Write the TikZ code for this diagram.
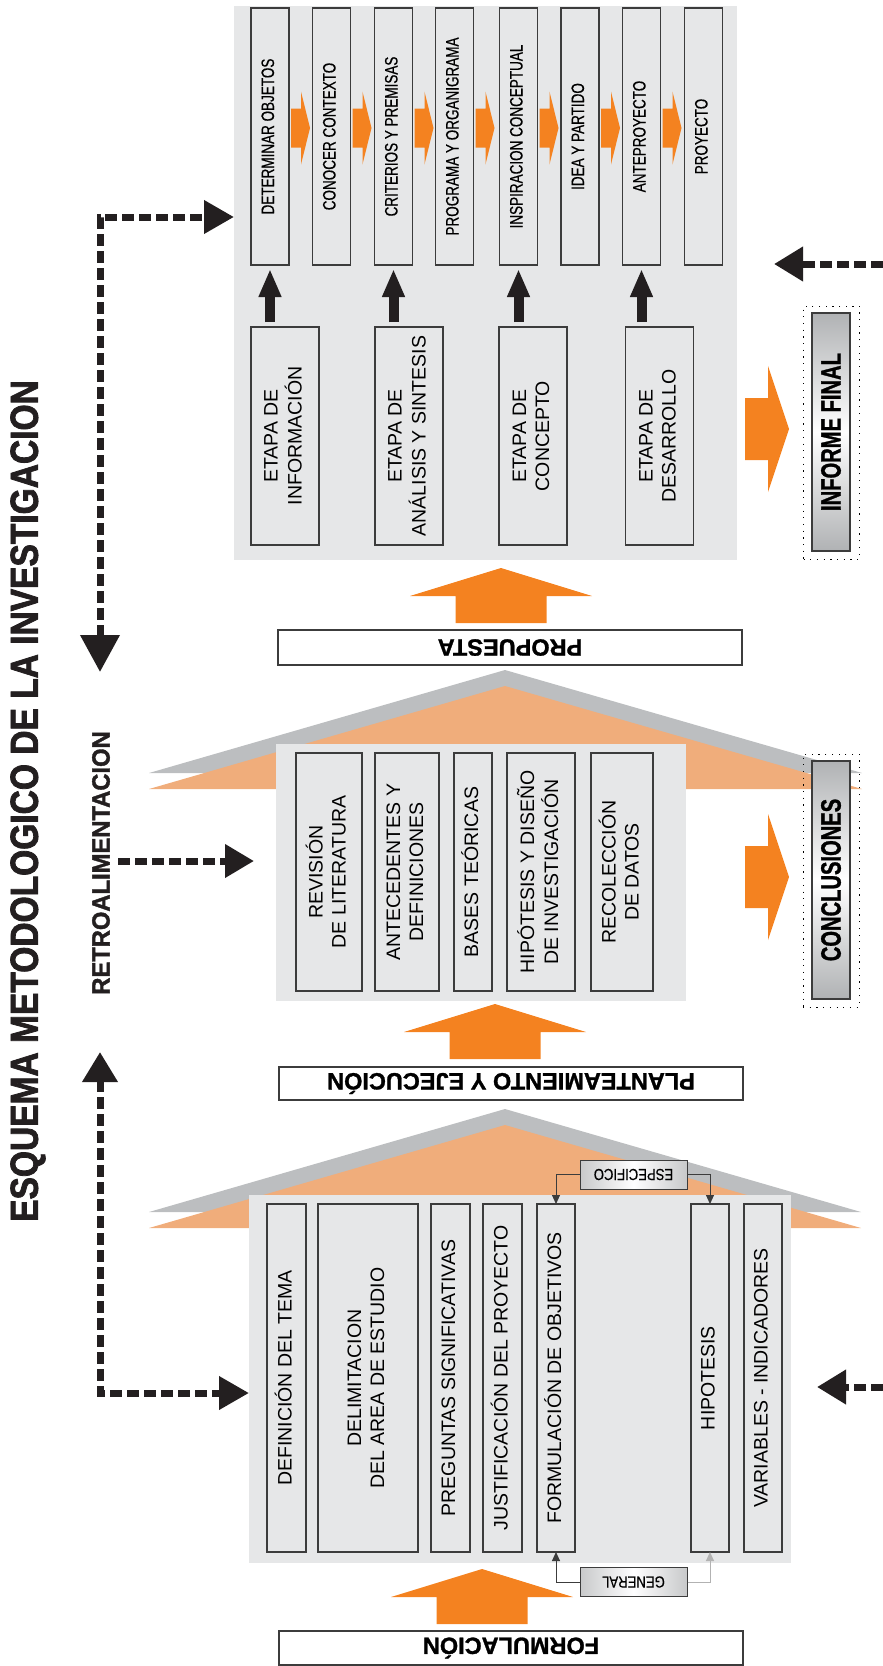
\documentclass[tikz,border=0pt]{standalone}
\usepackage{fontspec}
\usetikzlibrary{arrows.meta,calc}
\setmainfont{Liberation Sans}
\newfontfamily\condf{Liberation Sans}[FakeStretch=0.75,FakeBold=0.5]
\newfontfamily\smallcondf{Liberation Sans}[FakeStretch=0.82,FakeBold=0.3]
\newfontfamily\boldcf{Liberation Sans Bold}[FakeStretch=0.72,FakeBold=1]
\newfontfamily\titlef{Liberation Sans Bold}[FakeStretch=0.86,FakeBold=2]
\newfontfamily\retrof{Liberation Sans Bold}[FakeStretch=0.95,FakeBold=1.5]
\newfontfamily\labelf{Liberation Sans Bold}[FakeBold=1.2]
\definecolor{panelgray}{RGB}{230,231,232}
\definecolor{boxline}{RGB}{60,60,60}
\definecolor{orng}{RGB}{244,130,32}
\definecolor{rooforng}{RGB}{240,173,123}
\definecolor{roofgray}{RGB}{188,190,192}
\definecolor{shadegray}{RGB}{176,178,180}
\definecolor{dashblack}{RGB}{35,31,32}
\newcommand\vt[1]{\rotatebox{90}{\begin{tabular}{@{}c@{}}#1\end{tabular}}}
\tikzset{
 panel/.style={fill=panelgray, inner sep=0pt, outer sep=0pt},
 vbox/.style={draw=boxline, line width=1.1pt, fill=panelgray, inner sep=0pt, outer sep=0pt, font=\fontsize{19.5}{23}\selectfont},
 topbox/.style={vbox, minimum width=38pt, minimum height=257pt, font=\condf\fontsize{18}{20}\selectfont},
 etbox/.style={vbox, minimum width=68pt, minimum height=218pt},
 midbox/.style={vbox, minimum height=238pt},
 botbox/.style={vbox, minimum width=38pt, minimum height=348pt},
 lblbox/.style={draw=boxline, line width=1.1pt, fill=white, inner sep=0pt, minimum width=464pt, font=\labelf\fontsize{23.5}{26}\selectfont},
 finalbox/.style={draw=boxline, line width=1.1pt, top color=shadegray, bottom color=shadegray, middle color=white, minimum width=38pt, minimum height=238pt, inner sep=0pt, font=\boldcf\fontsize{28}{30}\selectfont},
 dotbox/.style={draw=black, line width=1pt, dash pattern=on 1.2pt off 5.5pt, minimum width=56pt, minimum height=253pt, inner sep=0pt},
 tagbox/.style={draw=boxline, line width=1pt, left color=shadegray!70, right color=shadegray!70, middle color=white, minimum width=107pt, minimum height=29pt, inner sep=0pt, font=\smallcondf\fontsize{16}{18}\selectfont},
 dashconn/.style={draw=dashblack, line width=7pt, dash pattern=on 12pt off 5pt},
 blkarr/.style={draw=dashblack, line width=10pt, -{Triangle[length=28pt,width=21pt]}},
 thinarr/.style={draw=boxline, line width=1pt, -{Triangle[length=9pt,width=8pt]}},
 pics/smallarr/.style={code={\fill[orng] (0,-19.5) -- (10,-19.5) -- (10,-36.5) -- (19,0) -- (10,36.5) -- (10,19.5) -- (0,19.5) -- cycle;}},
 pics/bigright/.style={code={\fill[orng] (0,-31) -- (23,-31) -- (23,-63) -- (44,0) -- (23,63) -- (23,31) -- (0,31) -- cycle;}},
 pics/bigup/.style={code={\fill[orng] (-45.5,0) -- (-45.5,-27) -- (-91,-27) -- (0,-55) -- (91,-27) -- (45.5,-27) -- (45.5,0) -- cycle;}},
}
\begin{document}
\begin{tikzpicture}[x=1pt,y=-1pt]
\useasboundingbox (0,0) rectangle (883,1666);

% ---------- roofs ----------
\fill[roofgray] (505,670) -- (862,773) -- (149,773) -- cycle;
\fill[rooforng] (505,686) -- (862,789) -- (149,789) -- cycle;
\fill[roofgray] (505,1109) -- (861,1212) -- (149,1212) -- cycle;
\fill[rooforng] (505,1125) -- (861,1228) -- (149,1228) -- cycle;

% ---------- panels ----------
\node[panel, minimum width=503pt, minimum height=554pt] (P1) at (485.5,283) {};
\node[panel, minimum width=410pt, minimum height=257pt] (P2) at (481,872.5) {};
\node[panel, minimum width=542pt, minimum height=368pt] (P3) at (520,1379) {};

% ---------- title ----------
\node[rotate=90, font=\titlef\fontsize{39}{40}\selectfont, text=dashblack, inner sep=0pt] (title) at (28,801) {ESQUEMA METODOLOGICO DE LA INVESTIGACION};
\node[rotate=90, font=\retrof\fontsize{25}{26}\selectfont, text=dashblack, inner sep=0pt] (retro) at (101,863) {RETROALIMENTACION};

% ---------- top section ----------
\node[topbox] (t1) at (270,136.5) {\vt{DETERMINAR OBJETOS}};
\node[topbox] (t2) at (331.5,136.5) {\vt{CONOCER CONTEXTO}};
\node[topbox] (t3) at (393.5,136.5) {\vt{CRITERIOS Y PREMISAS}};
\node[topbox] (t4) at (454.5,136.5) {\vt{PROGRAMA Y ORGANIGRAMA}};
\node[topbox] (t5) at (518.5,136.5) {\vt{INSPIRACION CONCEPTUAL}};
\node[topbox] (t6) at (580,136.5) {\vt{IDEA Y PARTIDO}};
\node[topbox] (t7) at (641.5,136.5) {\vt{ANTEPROYECTO}};
\node[topbox] (t8) at (703.5,136.5) {\vt{PROYECTO}};
\foreach \n in {t1,t2,t3,t4,t5,t6,t7} {\pic at ($(\n.east)+(2,-8.5)$) {smallarr};}

\node[etbox] (e1) at (285,436) {\vt{ETAPA DE\\INFORMACIÓN}};
\node[etbox] (e2) at (409,436) {\vt{ETAPA DE\\ANÁLISIS Y SINTESIS}};
\node[etbox] (e3) at (533,436) {\vt{ETAPA DE\\CONCEPTO}};
\node[etbox] (e4) at (659.5,436) {\vt{ETAPA DE\\DESARROLLO}};

\draw[blkarr, shorten <=5pt, shorten >=4pt] (t1.south |- e1.north) -- (t1.south);
\draw[blkarr, shorten <=5pt, shorten >=4pt] (t3.south |- e2.north) -- (t3.south);
\draw[blkarr, shorten <=5pt, shorten >=4pt] (t5.south |- e3.north) -- (t5.south);
\draw[blkarr, shorten <=5pt, shorten >=4pt] (t7.south |- e4.north) -- (t7.south);

\pic at (745,429) {bigright};
\node[dotbox] (inf-d) at (831.5,432.5) {};
\node[finalbox] (inf) at (831,432) {\rotatebox{90}{INFORME FINAL}};

\pic at (501,623) {bigup};
\node[lblbox, minimum height=35pt] (lprop) at (510,647.5) {\rotatebox{180}{PROPUESTA}};

% ---------- middle section ----------
\node[midbox, minimum width=66pt] (m1) at (329,872) {\vt{REVISIÓN\\DE LITERATURA}};
\node[midbox, minimum width=64pt] (m2) at (407,872) {\vt{ANTECEDENTES Y\\DEFINICIONES}};
\node[midbox, minimum width=38pt] (m3) at (473,872) {\vt{BASES TEÓRICAS}};
\node[midbox, minimum width=68pt] (m4) at (541,872) {\vt{HIPÓTESIS Y DISEÑO\\DE INVESTIGACIÓN}};
\node[midbox, minimum width=62pt] (m5) at (622,872) {\vt{RECOLECCIÓN\\DE DATOS}};

\pic at (745,877) {bigright};
\node[dotbox] (con-d) at (831,880.5) {};
\node[finalbox] (con) at (831,880) {\rotatebox{90}{CONCLUSIONES}};

\pic at (495,1059) {bigup};
\node[lblbox, minimum height=33pt] (lplan) at (511,1083.5) {\rotatebox{180}{PLANTEAMIENTO Y EJECUCIÓN}};

% ---------- bottom section ----------
\node[botbox, minimum width=39pt] (b1) at (286.5,1378) {\vt{DEFINICIÓN DEL TEMA}};
\node[botbox, minimum width=100pt] (b2) at (368,1378) {\vt{DELIMITACION\\DEL AREA DE ESTUDIO}};
\node[botbox, minimum width=39pt] (b3) at (450.5,1378) {\vt{PREGUNTAS SIGNIFICATIVAS}};
\node[botbox, minimum width=39pt] (b4) at (502.5,1378) {\vt{JUSTIFICACIÓN DEL PROYECTO}};
\node[botbox] (b5) at (556,1378) {\vt{FORMULACIÓN DE OBJETIVOS}};
\node[botbox] (b6) at (710,1378) {\vt{HIPOTESIS}};
\node[botbox] (b7) at (763,1378) {\vt{VARIABLES - INDICADORES}};

\node[tagbox] (esp) at (633.5,1174.5) {\rotatebox{180}{ESPECIFICO}};
\node[tagbox] (gen) at (633.5,1582) {\rotatebox{180}{GENERAL}};
\draw[thinarr] (esp.west) -| (b5.north);
\draw[thinarr] (esp.east) -| (b6.north);
\draw[thinarr] (gen.west) -| (b5.south);
\draw[thinarr, draw=gray!60] (gen.east) -| (b6.south);

\pic at (482,1624) {bigup};
\node[lblbox, minimum height=34pt] (lform) at (511,1648) {\rotatebox{180}{FORMULACIÓN}};

% ---------- dashed feedback connectors ----------
\coordinate (c1) at (100,217);
\coordinate (c1b) at (100,672);
\draw[dashconn, {Triangle[length=37pt,width=38pt]}-{Triangle[length=30pt,width=32pt]}] (c1b) -- (c1) -- (P1.west |- c1);
\coordinate (m0) at (118,861);
\coordinate (m9) at (254,861);
\draw[dashconn, -{Triangle[length=29pt,width=32pt]}] (m0) -- (m9);
\coordinate (c3) at (100,1393);
\coordinate (c3t) at (100,1052);
\draw[dashconn, {Triangle[length=30pt,width=34pt]}-{Triangle[length=30pt,width=32pt]}] (c3t) -- (c3) -- (P3.west |- c3);
\coordinate (r1a) at (883,264);
\coordinate (r1b) at (774,264);
\draw[dashconn, -{Triangle[length=29pt,width=33pt]}] (r1a) -- (r1b);
\coordinate (r2a) at (883,1387);
\coordinate (r2b) at (817,1387);
\draw[dashconn, -{Triangle[length=29pt,width=33pt]}] (r2a) -- (r2b);
\end{tikzpicture}
\end{document}
